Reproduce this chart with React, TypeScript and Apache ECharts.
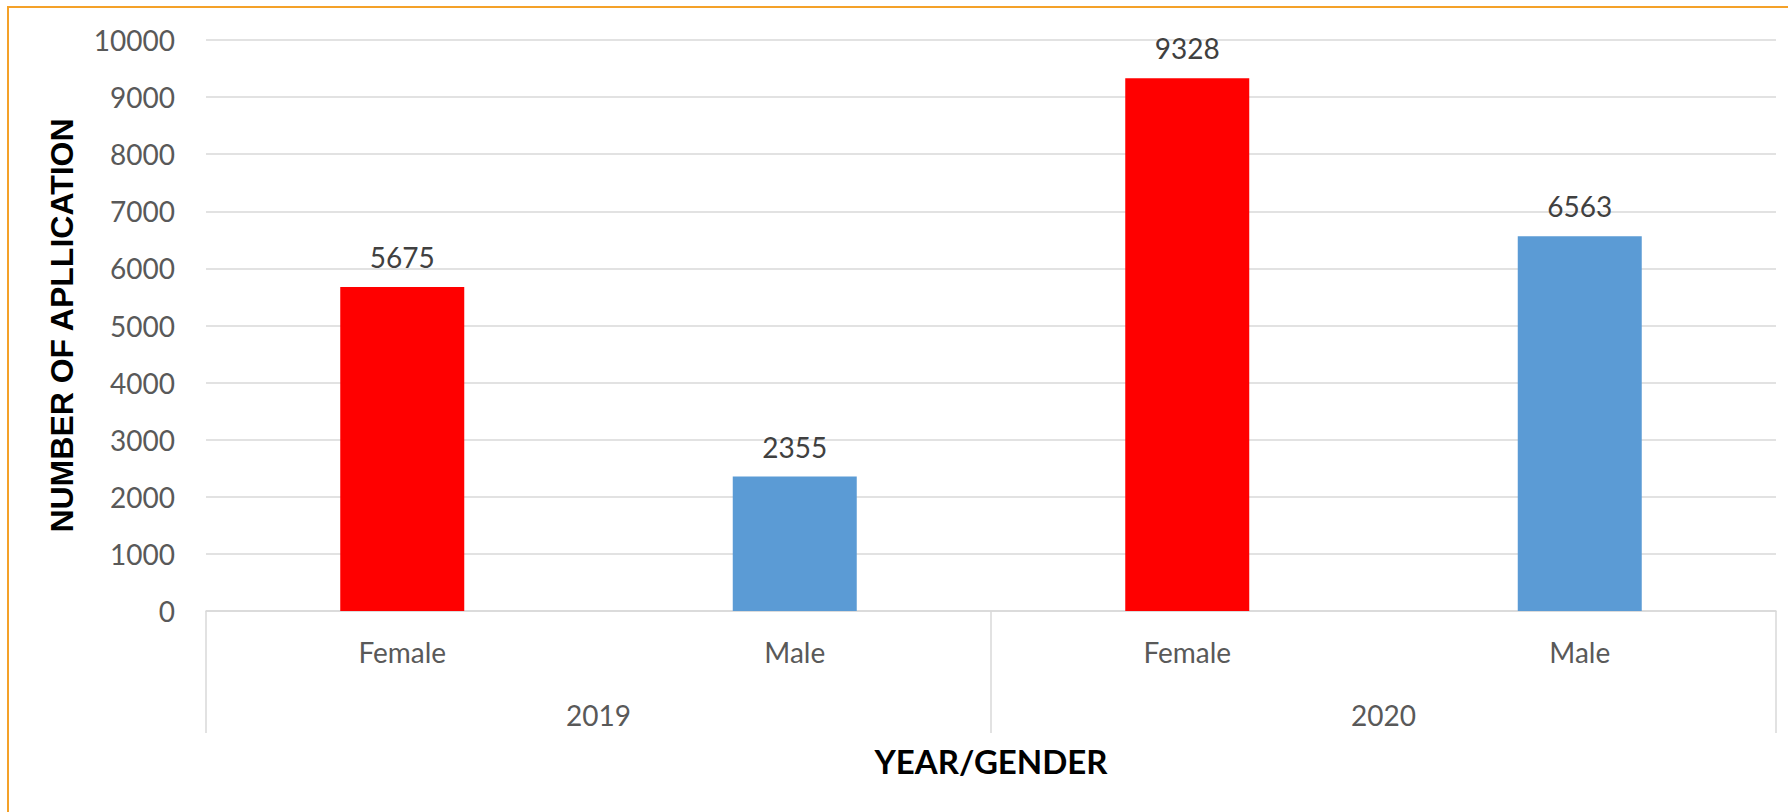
import React, { useEffect, useRef } from "react";
import * as echarts from "echarts";

const genders = ["Female", "Male", "Female", "Male"];
const years = ["2019", "2020"];
const applications = [5675, 2355, 9328, 6563];
const yTicks = { min: 0, max: 10000, interval: 1000 };

const FEMALE_COLOR = "#FF0000";
const MALE_COLOR = "#5B9BD5";

export default function App() {
  const ref = useRef<HTMLDivElement>(null);
  useEffect(() => {
    document.body.style.margin = "0";
    const chart = echarts.init(ref.current!, null, { renderer: "svg" });
    chart.setOption({
      animation: false,
      backgroundColor: "#FFFFFF",
      grid: { left: 206, top: 40, width: 1570, height: 571, containLabel: false },
      graphic: [
        {
          type: "rect",
          shape: { x: 8, y: 7, width: 1900, height: 900 },
          style: { fill: "none", stroke: "#F4A129", lineWidth: 2 },
          silent: true,
        },
      ],
      xAxis: [
        {
          type: "category",
          data: genders,
          position: "bottom",
          axisLine: { show: true, lineStyle: { color: "#D9D9D9", width: 1.5 } },
          axisTick: { show: false },
          axisLabel: {
            color: "#595959",
            fontFamily: "Lato",
            fontSize: 28,
            lineHeight: 28,
            margin: 27,
          },
          splitLine: { show: false },
        },
        {
          type: "category",
          data: years,
          position: "bottom",
          axisLine: { show: false },
          axisTick: {
            show: true,
            alignWithLabel: false,
            length: 122,
            lineStyle: { color: "#D9D9D9", width: 1.5 },
          },
          axisLabel: {
            color: "#595959",
            fontFamily: "Lato",
            fontSize: 28,
            lineHeight: 28,
            margin: 90,
          },
          splitLine: { show: false },
          name: "YEAR/GENDER",
          nameLocation: "middle",
          nameGap: 133,
          nameTextStyle: {
            color: "#000000",
            fontFamily: "Lato",
            fontWeight: "bold",
            fontSize: 33,
          },
        },
      ],
      yAxis: {
        type: "value",
        min: yTicks.min,
        max: yTicks.max,
        interval: yTicks.interval,
        axisLine: { show: false },
        axisTick: { show: false },
        axisLabel: {
          color: "#595959",
          fontFamily: "Lato",
          fontSize: 28,
          margin: 31,
          formatter: (v: number) => String(v),
        },
        splitLine: { lineStyle: { color: "#D9D9D9", width: 1.5 } },
        name: "NUMBER OF APLLICATION",
        nameLocation: "middle",
        nameRotate: 90,
        nameGap: 128,
        nameTextStyle: {
          color: "#000000",
          fontFamily: "Liberation Sans",
          fontWeight: "bold",
          fontSize: 32,
        },
      },
      series: [
        {
          type: "bar",
          xAxisIndex: 0,
          barWidth: 124,
          data: applications.map((v, i) => ({
            value: v,
            itemStyle: { color: genders[i] === "Female" ? FEMALE_COLOR : MALE_COLOR },
          })),
          label: {
            show: true,
            position: "top",
            distance: 16,
            color: "#404040",
            fontFamily: "Lato",
            fontSize: 28,
            lineHeight: 28,
          },
        },
      ],
    });
    return () => chart.dispose();
  }, []);
  return <div ref={ref} style={{ width: 1788, height: 812 }} />;
}
